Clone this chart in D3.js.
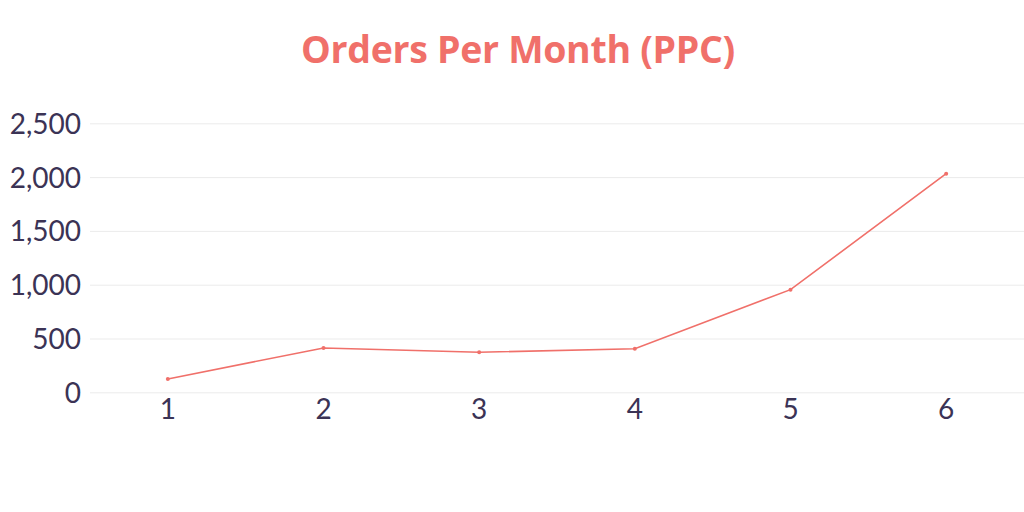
<!DOCTYPE html>
<html><head><meta charset="utf-8">
<script src="https://cdn.jsdelivr.net/npm/d3@7"></script>
<style>html,body{margin:0;padding:0;background:#fff;}svg{display:block;}</style>
</head><body>
<svg id="chart" width="1024" height="512"></svg>
<script>
const categories = ["1","2","3","4","5","6"];
const values = [124, 412, 372, 405, 954, 2032];
const yTicks = [0, 500, 1000, 1500, 2000, 2500];
const title = "Orders Per Month (PPC)";

(function(){
const svg = d3.select("#chart");
const mLeft = 90, mRight = 1024, mTop = 123.3, mBottom = 392.3;
const x = d3.scaleBand().domain(categories).range([mLeft, mRight]).padding(0);
const y = d3.scaleLinear().domain([0, 2500]).range([mBottom, mTop]);
const textColor = "#3b3355", accent = "#f0706a";

svg.append("text").attr("x", 518).attr("y", 63).attr("text-anchor", "middle")
  .attr("font-family", "'Open Sans', sans-serif").attr("font-weight", 700)
  .attr("font-size", 38).attr("letter-spacing", -0.3)
  .attr("textLength", 434).attr("lengthAdjust", "spacingAndGlyphs")
  .attr("fill", accent).text(title);

const yAxis = svg.append("g").attr("transform", `translate(${mLeft},0)`)
  .call(d3.axisLeft(y).tickValues(yTicks).tickSize(-(mRight-mLeft)).tickPadding(9).tickFormat(d3.format(",")));
yAxis.select(".domain").remove();
yAxis.selectAll(".tick line").attr("stroke", "#ebebeb").attr("stroke-width", 1);
yAxis.selectAll(".tick text").attr("font-family", "Lato, sans-serif").attr("font-size", 28)
  .attr("fill", textColor).attr("dy", "0.36em");

const xAxis = svg.append("g").attr("transform", `translate(0,${mBottom})`)
  .call(d3.axisBottom(x).tickSize(0).tickPadding(7));
xAxis.select(".domain").remove();
xAxis.selectAll(".tick text").attr("font-family", "Lato, sans-serif").attr("font-size", 28)
  .attr("fill", textColor).attr("dy", "0.71em");

const data = categories.map((c, i) => ({c, v: values[i]}));
const line = d3.line().x(d => x(d.c) + x.bandwidth()/2).y(d => y(d.v));
svg.append("path").datum(data).attr("d", line).attr("fill", "none")
  .attr("stroke", accent).attr("stroke-width", 1.6);
svg.selectAll("circle.pt").data(data).enter().append("circle").attr("class","pt")
  .attr("cx", d => x(d.c) + x.bandwidth()/2).attr("cy", d => y(d.v)).attr("r", 2).attr("fill", accent);
})();
</script>
</body></html>
